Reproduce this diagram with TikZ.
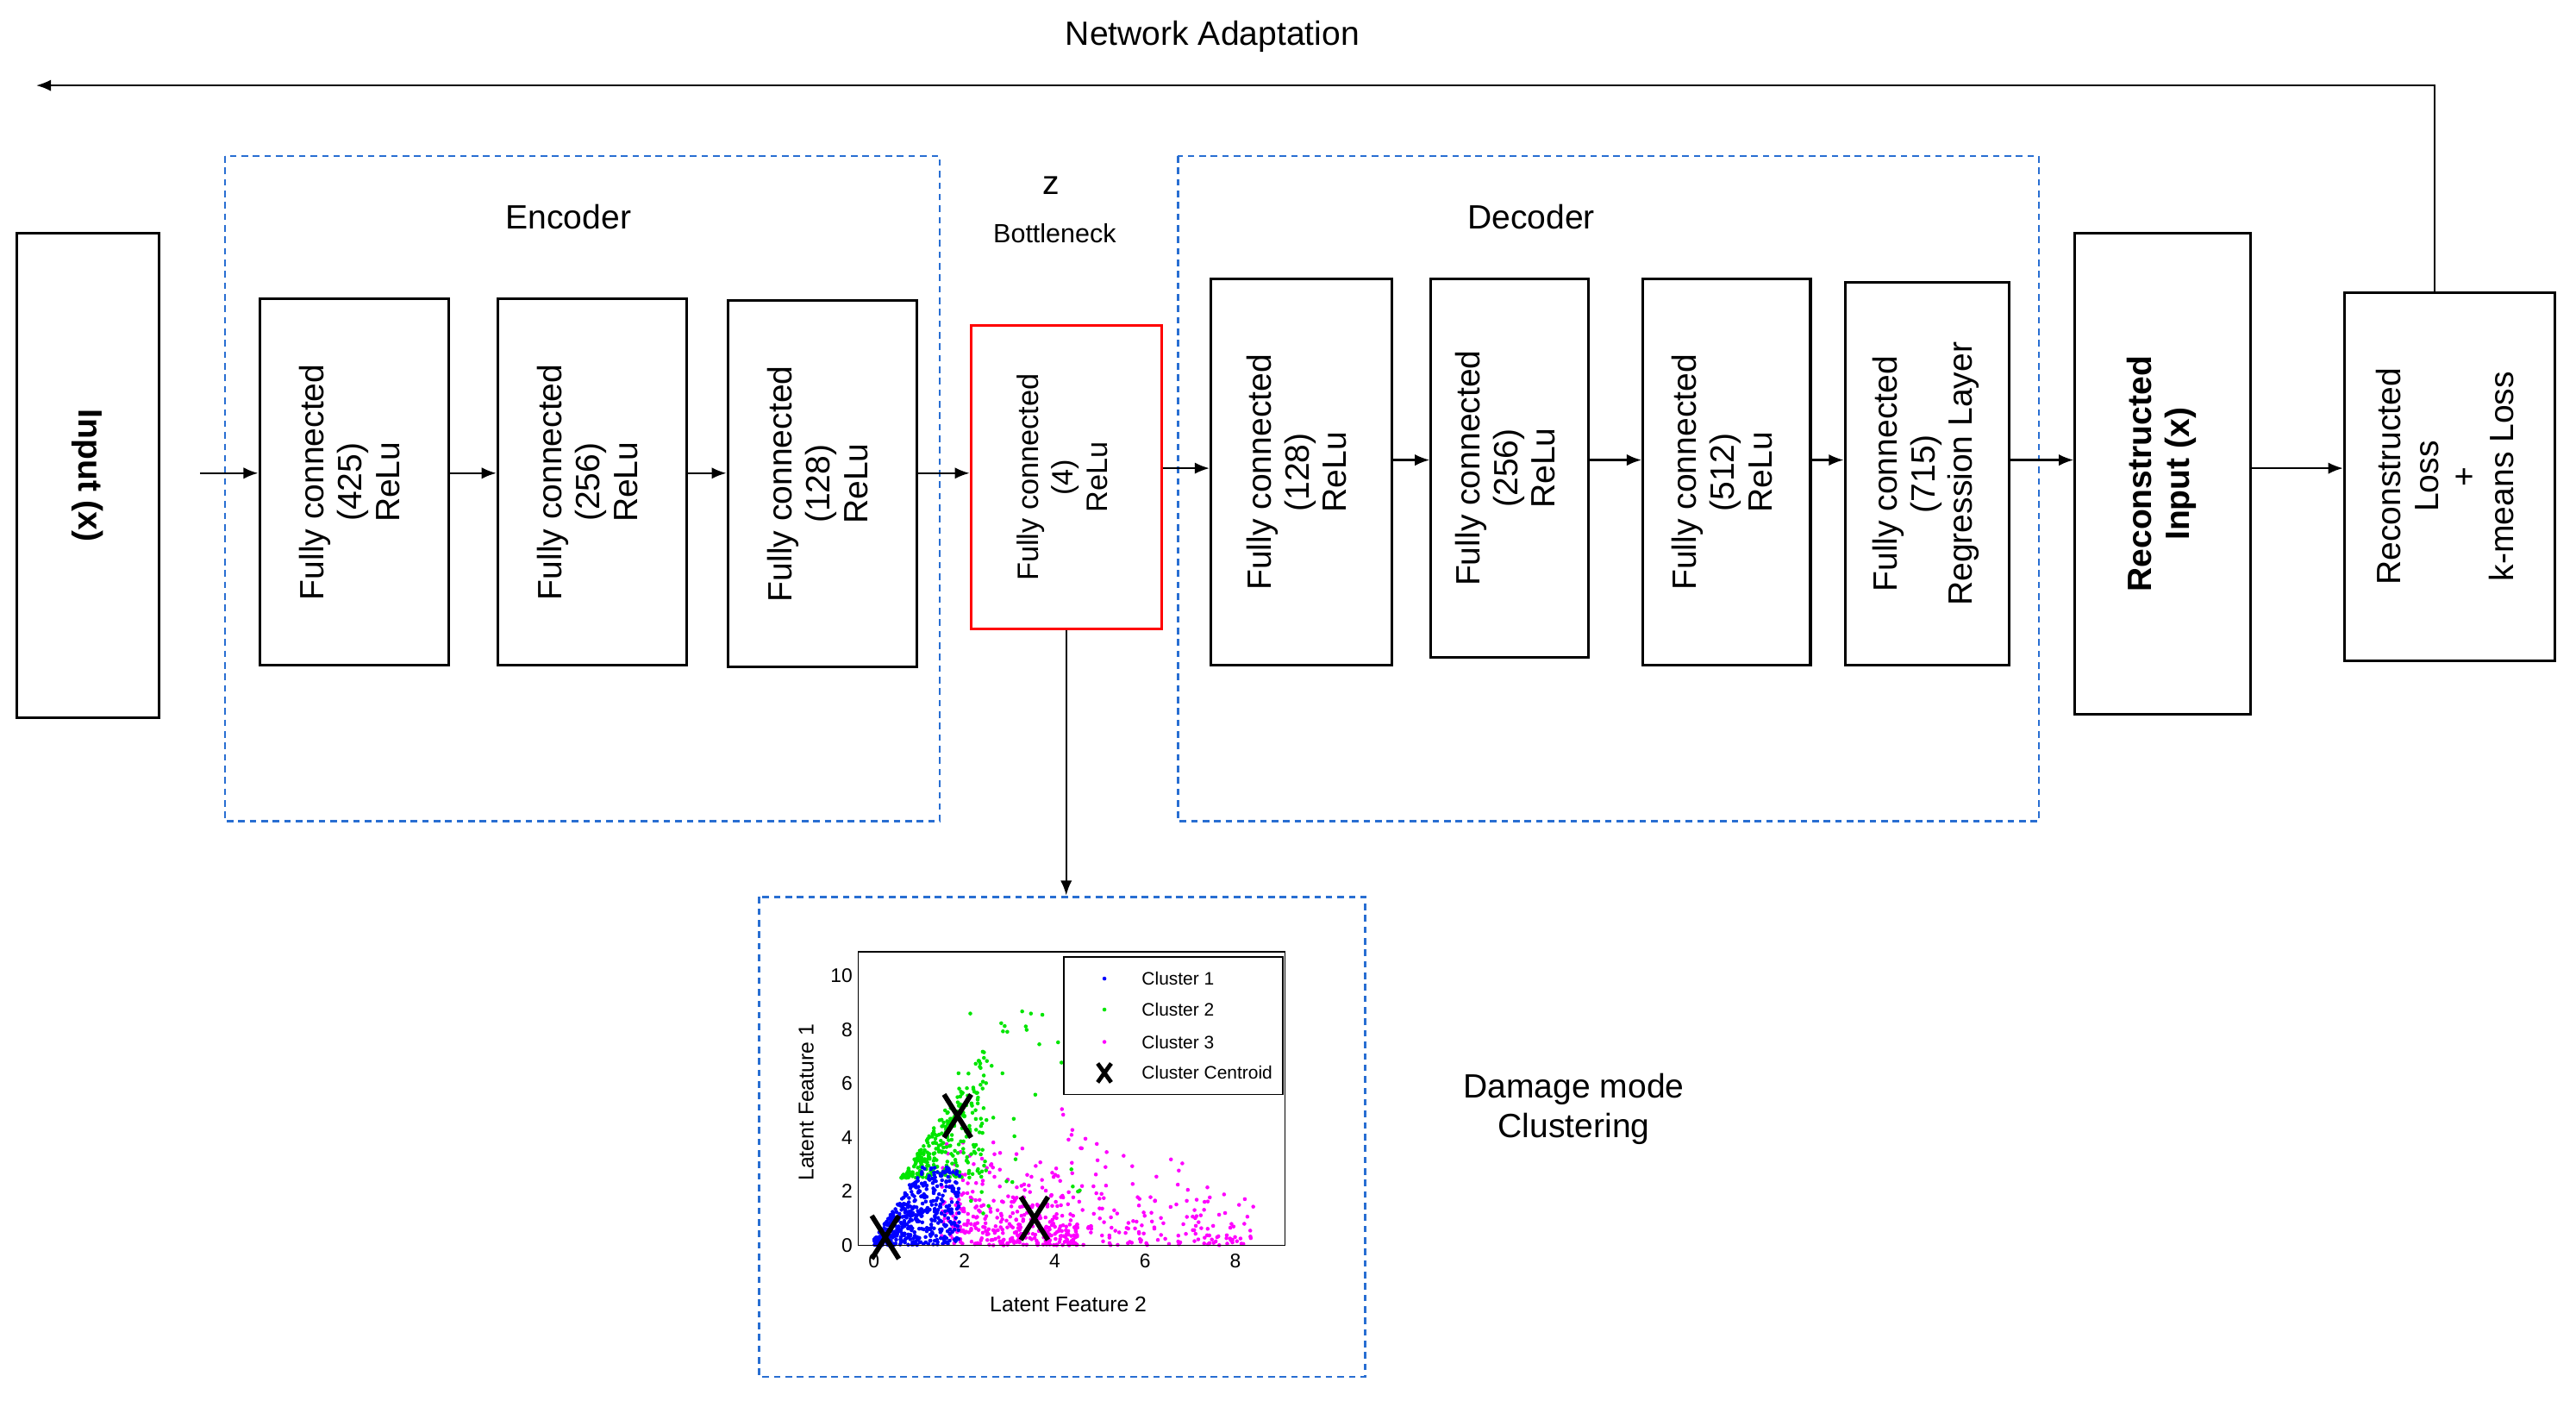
\documentclass[tikz,border=0pt]{standalone}
\usepackage{fontspec}
\setmainfont{Liberation Sans}
\usetikzlibrary{arrows.meta}
\definecolor{cmag}{rgb}{1,0,1}
\definecolor{cgrn}{rgb}{0,0.9,0}
\definecolor{cblu}{rgb}{0,0,1}
\begin{document}
\begin{tikzpicture}[x=1pt,y=-1pt,
  box/.style={draw,line width=1.6pt,rectangle,inner sep=0pt,font=\fontsize{20.5}{23}\selectfont},
  grp/.style={draw={rgb,255:red,40;green,110;blue,210},line width=1.4pt,dash pattern=on 4pt off 3pt},
  arr/.style={-{Latex[length=9pt,width=7pt]},line width=1.2pt},
  lbl/.style={font=\fontsize{20.5}{24}\selectfont}]
\useasboundingbox (0,0) rectangle (1568,856);
\newcommand\rt[1]{\rotatebox{90}{\begin{tabular}{c}#1\end{tabular}}}
\node[lbl] (title) at (738,22) {Network Adaptation};
\draw[grp] (137,95) rectangle (572,500);
\draw[grp] (717,95) rectangle (1241,500);
\draw[grp] (462,546) rectangle (831,838);
\node[lbl] (enc) at (346,132) {Encoder};
\node[lbl] (dec) at (932,132) {Decoder};
\node[lbl] (z) at (640,113) {z};
\node[font=\fontsize{16}{19}\selectfont] (bnl) at (642,142) {Bottleneck};
\node[box,minimum width=87pt,minimum height=295pt,font=\fontsize{20.5}{23}\selectfont\bfseries] (in) at (53.5,289.5) {\rotatebox{-90}{Input (x)}};
\node[box,minimum width=115pt,minimum height=223pt] (e1) at (215.5,293.5) {\rt{Fully connected\\(425)\\ReLu}};
\node[box,minimum width=115pt,minimum height=223pt] (e2) at (360.5,293.5) {\rt{Fully connected\\(256)\\ReLu}};
\node[box,minimum width=115pt,minimum height=223pt] (e3) at (500.5,294.5) {\rt{Fully connected\\(128)\\ReLu}};
\node[box,draw=red,minimum width=116pt,minimum height=185pt,font=\fontsize{18}{21}\selectfont] (bn) at (649,290.5) {\rt{Fully connected\\(4)\\ReLu}};
\node[box,minimum width=110pt,minimum height=235pt] (d1) at (792,287.5) {\rt{Fully connected\\(128)\\ReLu}};
\node[box,minimum width=96pt,minimum height=230pt] (d2) at (919,285) {\rt{Fully connected\\(256)\\ReLu}};
\node[box,minimum width=102pt,minimum height=235pt] (d3) at (1051,287.5) {\rt{Fully connected\\(512)\\ReLu}};
\node[box,minimum width=100pt,minimum height=233pt] (d4) at (1173,288.5) {\rt{Fully connected\\(715)\\Regression Layer}};
\node[box,minimum width=107pt,minimum height=293pt,font=\fontsize{20.5}{23}\selectfont\bfseries] (rec) at (1316.5,288.5) {\rt{Reconstructed\\Input (x)}};
\node[box,minimum width=128pt,minimum height=224pt] (loss) at (1491,290) {\rt{Reconstructed\\Loss\\+\\k-means Loss}};
\coordinate (s0) at (122,288);
\coordinate (fb) at (22,52);
\coordinate (fbr) at (1482,52);
\draw[arr] (s0) -- (s0 -| e1.west);
\draw[arr] (e1.east |- 0,288) -- (e2.west |- 0,288);
\draw[arr] (e2.east |- 0,288) -- (e3.west |- 0,288);
\draw[arr] (e3.east |- 0,288) -- (bn.west |- 0,288);
\draw[arr] (bn.east |- 0,285) -- (d1.west |- 0,285);
\draw[arr] (d1.east |- 0,280) -- (d2.west |- 0,280);
\draw[arr] (d2.east |- 0,280) -- (d3.west |- 0,280);
\draw[arr] (d3.east |- 0,280) -- (d4.west |- 0,280);
\draw[arr] (d4.east |- 0,280) -- (rec.west |- 0,280);
\draw[arr] (rec.east |- 0,285) -- (loss.west |- 0,285);
\draw[arr] (fbr |- loss.north) -- (fbr) -- (fb);
\coordinate (ptop) at (649,545);
\draw[arr] (bn.south) -- (ptop);
\node[lbl,align=center] (dmg) at (958,675) {Damage mode\\Clustering};
\begin{scope}[shift={(532,758)},x=27.5pt,y=16.4pt]
  \pgfmathsetseed{7}
  \foreach \i in {1,...,200}{\pgfmathsetmacro\px{3.8+rnd*4.6}\pgfmathsetmacro\py{rnd*rnd*max(0,6-0.75*(\px-3.8))}\fill[cmag] (\px,\py) circle (1.2pt);}
  \foreach \i in {1,...,350}{\pgfmathsetmacro\px{1.5+rnd*3}\pgfmathsetmacro\py{rnd*rnd*(4.5-0.4*(\px-1.5))}\fill[cmag] (\px,\py) circle (1.2pt);}
  \foreach \i in {1,...,300}{\pgfmathsetmacro\px{0.6+rnd*1.9}\pgfmathsetmacro\py{2.5+rnd*min(4.8,2.6*(\px-0.6))}\fill[cgrn] (\px,\py) circle (1.2pt);}
  \foreach \i in {1,...,40}{\pgfmathsetmacro\px{1.8+rnd*2.8}\pgfmathsetmacro\py{1+rnd*8}\fill[cgrn] (\px,\py) circle (1.2pt);}
  \foreach \i in {1,...,500}{\pgfmathsetmacro\px{rnd*1.9}\pgfmathsetmacro\py{rnd*min(2.9,2.6*\px+0.2)}\fill[cblu] (\px,\py) circle (1.2pt);}
  \draw[line width=0.8pt] (-0.35,0) rectangle (9.1,10.9);
  \foreach \t in {0,2,4,6,8} \node[font=\fontsize{12}{14}\selectfont,below] at (\t,-0.1) {\t};
  \foreach \t in {0,2,4,6,8,10} \node[font=\fontsize{12}{14}\selectfont,left] at (-0.35,\t) {\t};
  \node[font=\fontsize{13}{15}\selectfont] at (4.3,-2.2) {Latent Feature 2};
  \node[font=\fontsize{13}{15}\selectfont,rotate=90] at (-1.5,5.3) {Latent Feature 1};
  \foreach \cx/\cy in {0.25/0.3,1.85/4.8,3.55/1.0}{
    \draw[line width=3pt] (\cx-0.3,\cy-0.8) -- (\cx+0.3,\cy+0.8) (\cx-0.3,\cy+0.8) -- (\cx+0.3,\cy-0.8);}
  \draw[line width=0.8pt,fill=white] (4.2,5.6) rectangle (9.05,10.7);
  \fill[cblu] (5.1,9.9) circle (1.2pt); \node[font=\fontsize{11}{13}\selectfont,right] at (5.8,9.9) {Cluster 1};
  \fill[cgrn] (5.1,8.75) circle (1.2pt); \node[font=\fontsize{11}{13}\selectfont,right] at (5.8,8.75) {Cluster 2};
  \fill[cmag] (5.1,7.55) circle (1.2pt); \node[font=\fontsize{11}{13}\selectfont,right] at (5.8,7.55) {Cluster 3};
  \draw[line width=2.5pt] (4.95,6.05)--(5.25,6.75) (4.95,6.75)--(5.25,6.05); \node[font=\fontsize{11}{13}\selectfont,right] at (5.8,6.4) {Cluster Centroid};
\end{scope}
\end{tikzpicture}
\end{document}
